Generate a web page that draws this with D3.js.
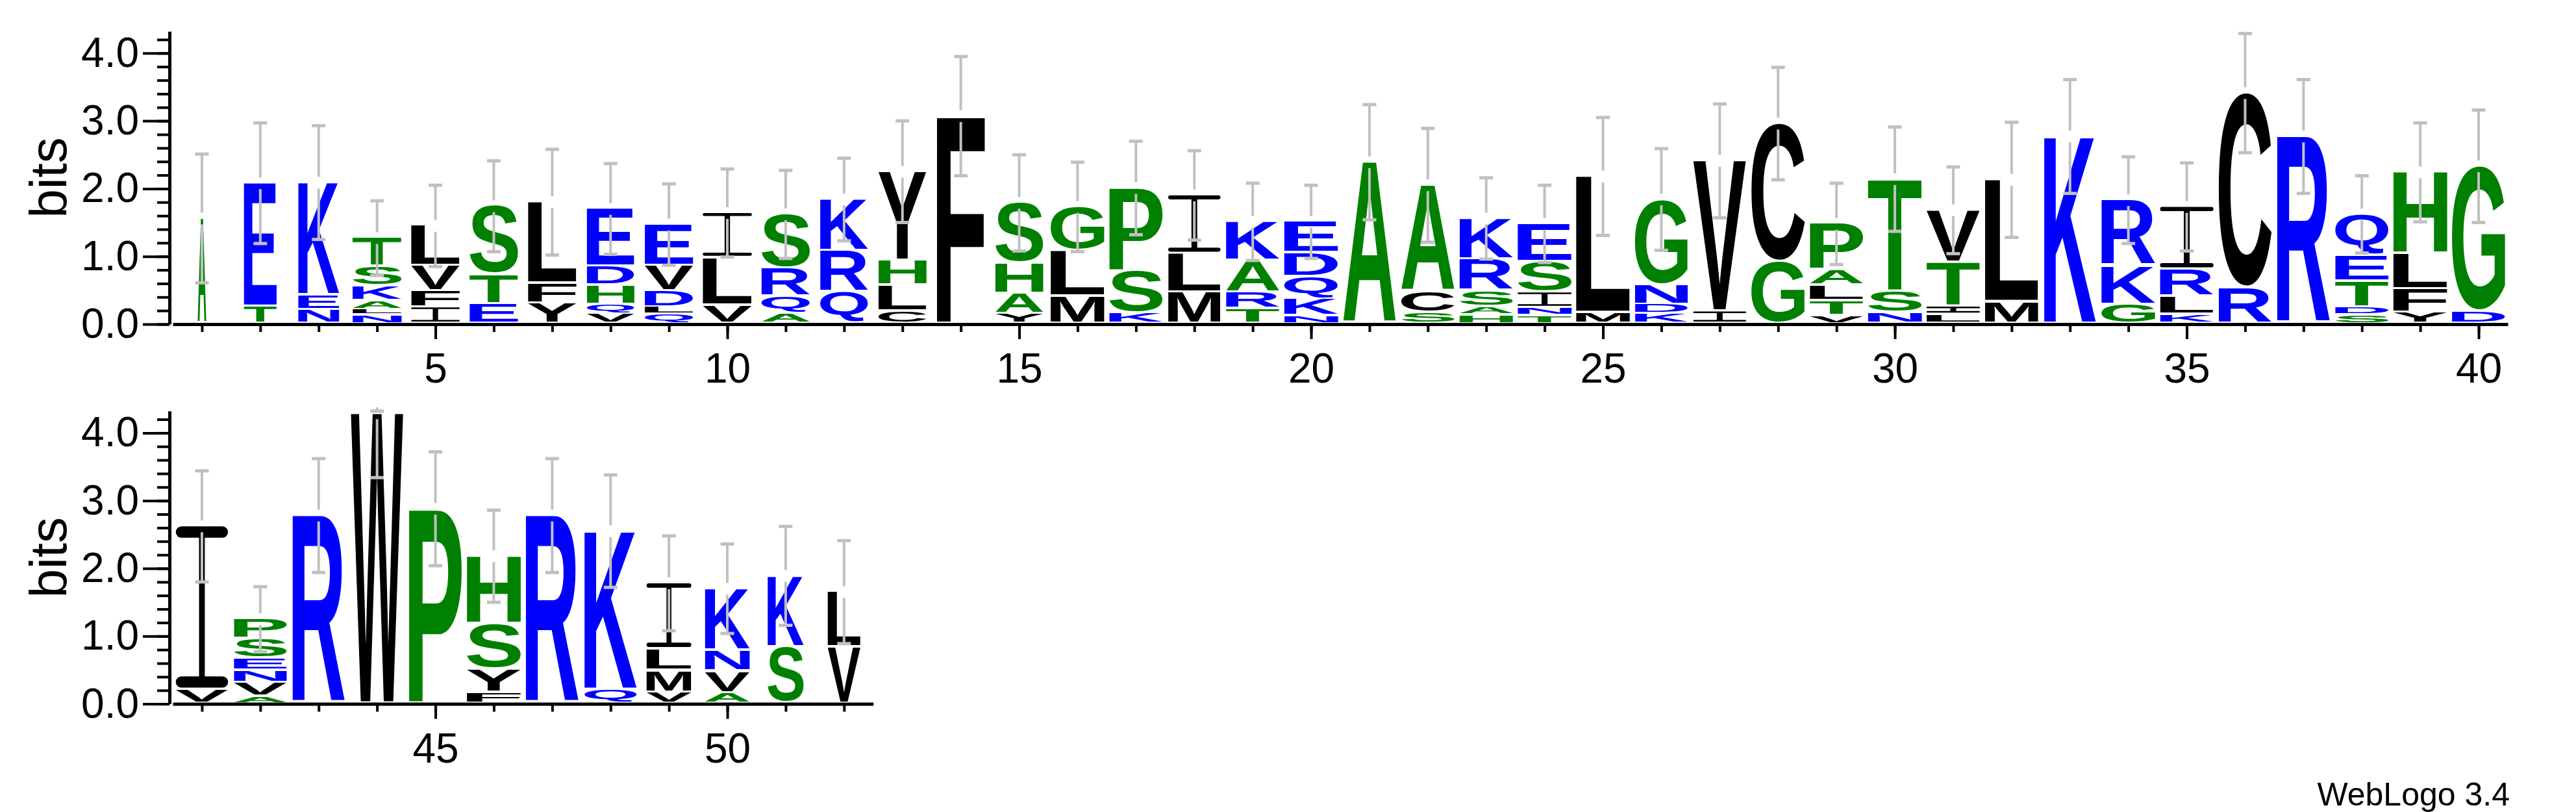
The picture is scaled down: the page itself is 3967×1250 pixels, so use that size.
<!DOCTYPE html>
<html><head><meta charset="utf-8">
<script src="https://cdn.jsdelivr.net/npm/d3@7"></script>
<style>html,body{margin:0;padding:0;background:#fff;} svg{display:block;background:#fff}</style>
</head><body>
<svg id="chart" width="3967" height="1250"></svg>
<script>
// ---------------- DATA ----------------
const positions = d3.range(1, 53);
// letters of each stack, bottom to top
const stackLetters = ["A","TE","NEK","NLAKST","IFVL","ETS","YFL","VQHDE","QLDVE","VLI",
  "AQRS","QRK","CLHY","F","YAHS","MLG","KSP","MLI","TRAK","NKQDE",
  "A","SCA","HASRK","TNISE","ML","KDNG","IV","GC","VTLAP","NST",
  "LITV","ML","K","GKR","KLRI","RC","R","SDTEQ","YFLH","DG",
  "VI","AVNESP","R","W","P","FYSH","R","QK","VMLI","AVNK","SK","VL"];
// height (bits) of each letter, bottom to top
const stackBits = [
  [1.56],[0.29,1.79],[0.24,0.22,1.63],[0.16,0.08,0.13,0.22,0.29,0.39],[0.28,0.24,0.37,0.56],
  [0.33,0.43,0.98],[0.34,0.29,1.17],[0.18,0.14,0.28,0.28,0.82],[0.17,0.11,0.24,0.37,0.58],[0.31,0.70,0.63],
  [0.18,0.26,0.41,0.77],[0.50,0.61,0.73],[0.22,0.38,0.37,1.28],[3.07],[0.18,0.30,0.45,0.86],
  [0.44,0.67,0.62],[0.19,0.62,1.20],[0.50,0.57,0.83],[0.26,0.24,0.47,0.54],[0.15,0.25,0.33,0.35,0.43],
  [2.39],[0.20,0.31,1.54],[0.16,0.12,0.24,0.47,0.57],[0.15,0.12,0.23,0.45,0.53],[0.20,1.98],
  [0.18,0.14,0.29,1.23],[0.22,2.19],[0.95,2.01],[0.15,0.22,0.23,0.23,0.65],[0.20,0.32,1.62],
  [0.17,0.12,0.65,0.74],[0.36,1.77],[2.77],[0.32,0.57,0.94],[0.17,0.27,0.40,0.89],
  [0.57,2.84],[2.77],[0.16,0.12,0.38,0.38,0.58],[0.20,0.35,0.52,1.17],[0.22,2.11],
  [0.24,2.38],[0.14,0.20,0.18,0.18,0.29,0.26],[2.78],[4.29],[2.88],
  [0.20,0.34,0.67,0.97],[2.78],[0.24,2.31],[0.20,0.32,0.32,0.94],[0.19,0.32,0.31,0.88],
  [0.87,1.02],[0.87,0.78]];
// error bar half-length (bits)
const errorBits = [0.95,0.89,0.84,0.55,0.60,0.67,0.78,0.67,0.60,0.65,0.65,0.61,0.75,0.88,0.71,0.66,0.69,0.66,0.57,0.54,
  0.85,0.84,0.60,0.57,0.87,0.75,0.84,0.83,0.60,0.77,0.64,0.85,0.84,0.64,0.65,0.88,0.84,0.57,0.73,0.83,
  0.82,0.48,0.84,0.95,0.84,0.68,0.84,0.83,0.70,0.66,0.73,0.76];
// fraction of non-gap symbols (stack width)
const occupancy = [0.16,0.61,0.76,0.91,0.90,0.90,0.90,0.88,0.90,0.91,0.90,0.89,0.89,0.89,0.89,1.00,0.99,0.97,0.99,1.00,
  0.98,0.99,0.99,1.00,1.00,0.98,0.98,0.99,0.99,1.00,0.99,0.99,0.96,1.00,0.99,0.98,0.98,0.99,1.00,0.99,
  0.97,0.98,0.97,0.97,0.98,1.00,0.98,0.97,0.83,0.83,0.67,0.61];
const yTickLabels = [0, 1, 2, 3, 4];
const xTickLabels = [5, 10, 15, 20, 25, 30, 35, 40, 45, 50];
const maxBits = Math.log2(20);
const greenLetters = "ASTGHP", blueLetters = "EKNDQR", blackLetters = "LVIFYMCW";

// ---------------- LAYOUT ----------------
const svg = d3.select("#chart");
const FONT = "'Liberation Sans', Arial, Helvetica, sans-serif";
const colW = 89.9, pxPerBit = 104.3, maxStackW = 83;
const panels = [{first: 1, last: 40, base: 499}, {first: 41, last: 52, base: 1083.6}];

function colorOf(ch) {
  if (greenLetters.includes(ch)) return "#008000";
  if (blueLetters.includes(ch)) return "#0000ff";
  return "#000000";
}

const ctx = document.createElement("canvas").getContext("2d");
const GF = 200;
ctx.font = `bold ${GF}px "Liberation Sans"`;
const mcache = {};
function metrics(ch) {
  if (!mcache[ch]) {
    const m = ctx.measureText(ch);
    mcache[ch] = {L: m.actualBoundingBoxLeft, R: m.actualBoundingBoxRight, A: m.actualBoundingBoxAscent, D: m.actualBoundingBoxDescent};
  }
  return mcache[ch];
}

function drawGlyph(g, ch, x, y, w, h, color) {
  if (h <= 0.5) return;
  if (ch === "I") {
    const t = Math.min(h / 3, Math.max(2.5, 0.07 * h));
    const s = Math.max(3, 0.11 * w);
    g.append("rect").attr("x", x).attr("y", y).attr("width", w).attr("height", t).attr("rx", t / 2).attr("fill", color);
    g.append("rect").attr("x", x + w / 2 - s / 2).attr("y", y + t / 2).attr("width", s).attr("height", h - t).attr("fill", color);
    g.append("rect").attr("x", x).attr("y", y + h - t).attr("width", w).attr("height", t).attr("rx", t / 2).attr("fill", color);
    return;
  }
  const m = metrics(ch);
  const sx = w / (m.L + m.R), sy = h / (m.A + m.D);
  g.append("text")
    .attr("transform", `translate(${x + m.L * sx},${y + m.A * sy}) scale(${sx},${sy})`)
    .attr("font-family", FONT).attr("font-weight", "bold").attr("font-size", GF)
    .attr("fill", color).text(ch);
}

panels.forEach(p => {
  const n = p.last - p.first + 1;
  const x = d3.scaleLinear().domain([p.first - 0.5, p.last + 0.5]).range([266, 266 + n * colW]);
  const y = d3.scaleLinear().domain([0, maxBits]).range([p.base, p.base - maxBits * pxPerBit]);
  const gL = svg.append("g");
  const gE = svg.append("g").attr("stroke", "#c0c0c0").attr("stroke-width", 4).attr("fill", "none");
  const panelPos = positions.filter(d => d >= p.first && d <= p.last);

  panelPos.forEach(pos => {
    const i = pos - 1;
    const letters = stackLetters[i].split("");
    const bits = stackBits[i];
    const w = maxStackW * occupancy[i];
    const xc = x(pos), x0 = xc - w / 2;
    let cum = 0;
    letters.forEach((ch, k) => {
      const yb = y(cum), yt = y(cum + bits[k]);
      const sh = yb - yt;
      const gapTop = k === letters.length - 1 ? 0 : Math.min(3.5, sh * 0.25);
      const gapBot = k === 0 ? Math.min(4, sh * 0.2) : 0;
      drawGlyph(gL, ch, x0, yt + gapTop, w, sh - gapTop - gapBot, colorOf(ch));
      cum += bits[k];
    });
    // error bar
    const top = cum, err = errorBits[i];
    const hi = Math.min(maxBits, top + err), lo = Math.max(0, top - err);
    const yTop = y(top), half = 9;
    gE.append("line").attr("x1", xc).attr("x2", xc).attr("y1", y(hi)).attr("y2", yTop - half);
    gE.append("line").attr("x1", xc).attr("x2", xc).attr("y1", yTop + half).attr("y2", y(lo));
    gE.append("line").attr("x1", xc - 10.5).attr("x2", xc + 10.5).attr("y1", y(hi)).attr("y2", y(hi)).attr("stroke-width", 5);
    gE.append("line").attr("x1", xc - 10.5).attr("x2", xc + 10.5).attr("y1", y(lo)).attr("y2", y(lo)).attr("stroke-width", 5);
  });

  // axes
  const styleAxis = g => {
    g.selectAll(".domain").attr("stroke", "#000").attr("stroke-width", 5);
    g.selectAll(".tick line").attr("stroke", "#000").attr("stroke-width", 4);
    g.selectAll("text").attr("font-family", FONT).attr("font-size", 64).attr("fill", "#000");
  };
  // x axis: minor ticks at each position
  svg.append("g").attr("transform", `translate(0,${p.base})`)
    .call(d3.axisBottom(x).tickValues(panelPos).tickSize(12).tickSizeOuter(0).tickFormat(""))
    .call(styleAxis);
  svg.append("g").attr("transform", `translate(0,${p.base})`)
    .call(d3.axisBottom(x).tickValues(xTickLabels.filter(v => v >= p.first && v <= p.last)).tickSize(23).tickSizeOuter(0).tickPadding(22).tickFormat(d3.format("d")))
    .call(styleAxis)
    .call(g => g.select(".domain").remove());
  // y axis
  const minorVals = d3.range(0, 22).map(k => k * 0.2).filter(v => v <= maxBits);
  svg.append("g").attr("transform", "translate(261,0)")
    .call(d3.axisLeft(y).tickValues(minorVals).tickSize(19).tickSizeOuter(0).tickFormat(""))
    .call(styleAxis);
  svg.append("g").attr("transform", "translate(261,0)")
    .call(d3.axisLeft(y).tickValues(yTickLabels).tickSize(41).tickSizeOuter(0).tickPadding(6).tickFormat(d3.format(".1f")))
    .call(styleAxis)
    .call(g => g.select(".domain").remove());
  // y label
  svg.append("text")
    .attr("transform", `translate(102,${p.base - maxBits * pxPerBit / 2}) rotate(-90)`)
    .attr("text-anchor", "middle").attr("font-family", FONT).attr("font-size", 80).attr("fill", "#000")
    .text("bits");
});

svg.append("text").attr("x", 3865).attr("y", 1240).attr("text-anchor", "end")
  .attr("font-family", FONT).attr("font-size", 50).attr("fill", "#000").text("WebLogo 3.4");
</script>
</body></html>
